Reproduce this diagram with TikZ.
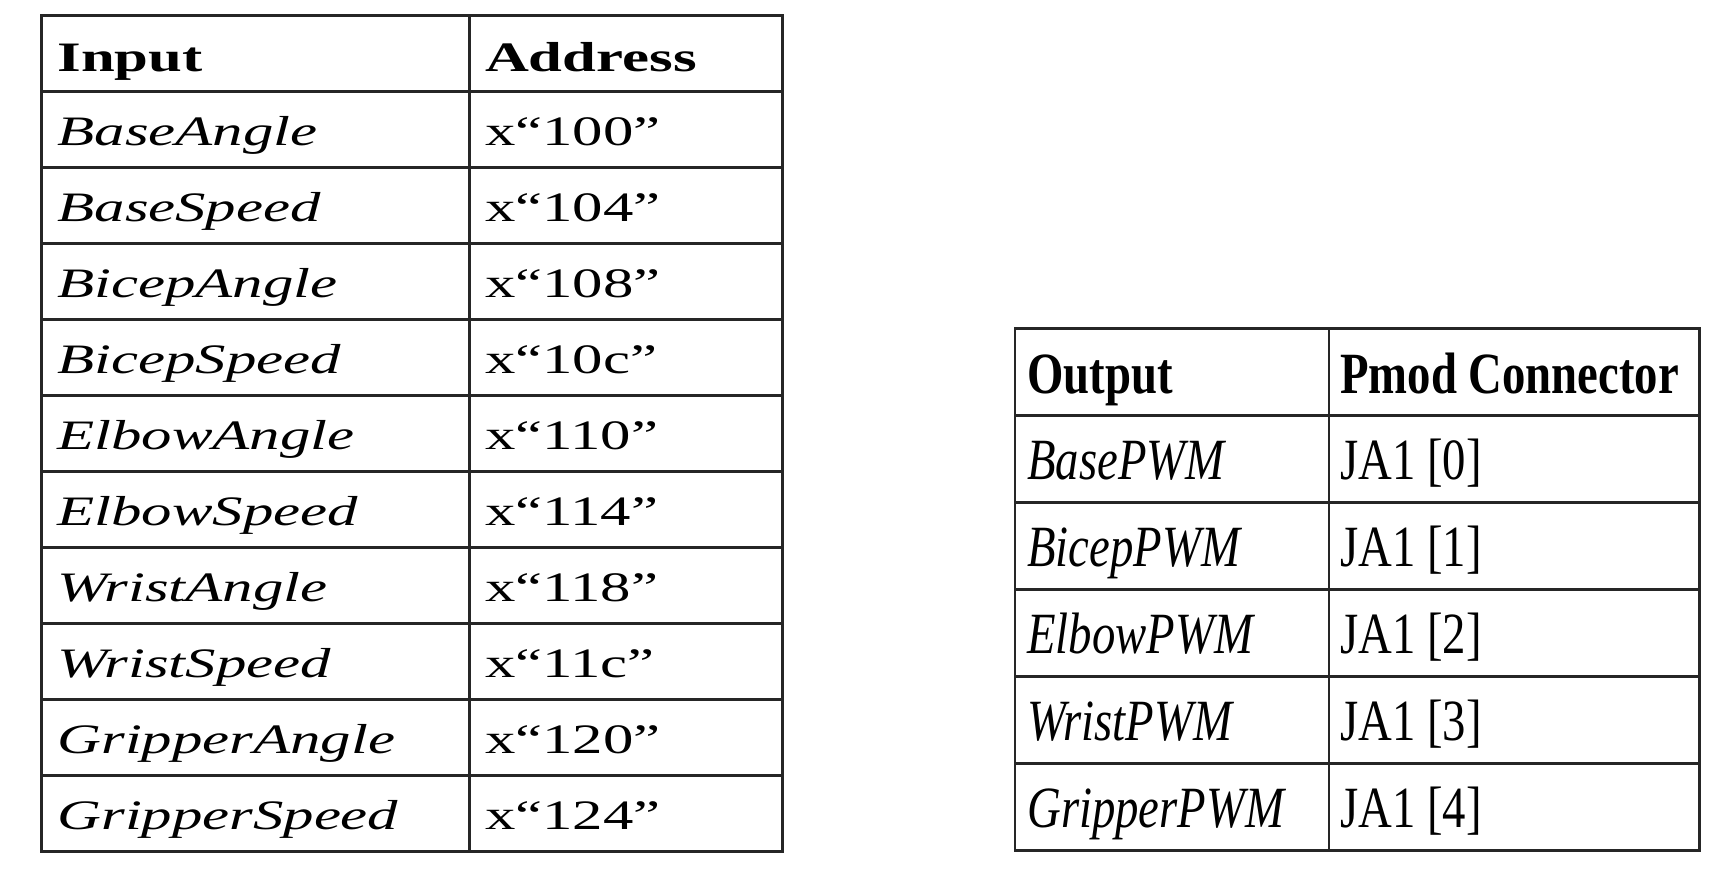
\documentclass[tikz,border=0pt]{standalone}
\usepackage{fontspec}
\newfontfamily\lfont[FakeStretch=1.45]{Liberation Serif}
\newfontfamily\rfont[FakeStretch=0.8]{Liberation Serif}
\begin{document}
\begin{tikzpicture}[x=1.102pt,y=-1.102pt,
  grid/.style={line width=2.8pt, draw=black!85},
  ltxt/.style={anchor=base west, inner sep=0pt, font=\lfont\fontsize{41.9}{44}\selectfont},
  rtxt/.style={anchor=base west, inner sep=0pt, font=\rfont\fontsize{58.4}{61}\selectfont}]
\fill[white] (0pt,0pt) rectangle (1728pt,-882pt);
\useasboundingbox (0pt,0pt) rectangle (1728pt,-882pt);
% left table
\draw[grid] (38,14) rectangle (710,773);
\draw[grid] (426,14) -- (426,773);
\foreach \k in {1,...,10} \draw[grid] (38,{14+69*\k}) -- (710,{14+69*\k});
\node[ltxt] (inhead) at (52,65) {\bfseries Input};
\node[ltxt] (adhead) at (440,65) {\bfseries Address};
\foreach \n/\a [count=\i] in {BaseAngle/100,BaseSpeed/104,BicepAngle/108,BicepSpeed/10c,ElbowAngle/110,ElbowSpeed/114,WristAngle/118,WristSpeed/11c,GripperAngle/120,GripperSpeed/124}{
  \node[ltxt] (in\i) at (52,{14+69*\i+49}) {\itshape \n};
  \node[ltxt] (ad\i) at (440,{14+69*\i+49}) {x“\a”};
}
% right table
\draw[grid] (921,298) rectangle (1542,772);
\draw[grid] (1206,298) -- (1206,772);
\foreach \k in {1,...,5} \draw[grid] (921,{298+79*\k}) -- (1542,{298+79*\k});
\node[rtxt] (outhead) at (932,357) {\bfseries Output};
\node[rtxt] (pmhead) at (1216,357) {\bfseries Pmod Connector};
\foreach \n [count=\i from 0] in {Base,Bicep,Elbow,Wrist,Gripper}{
  \node[rtxt] (out\i) at (932,{298+79*(\i+1)+58}) {\itshape \n PWM};
  \node[rtxt] (pm\i) at (1216,{298+79*(\i+1)+58}) {JA1 [\i]};
}
\end{tikzpicture}
\end{document}
